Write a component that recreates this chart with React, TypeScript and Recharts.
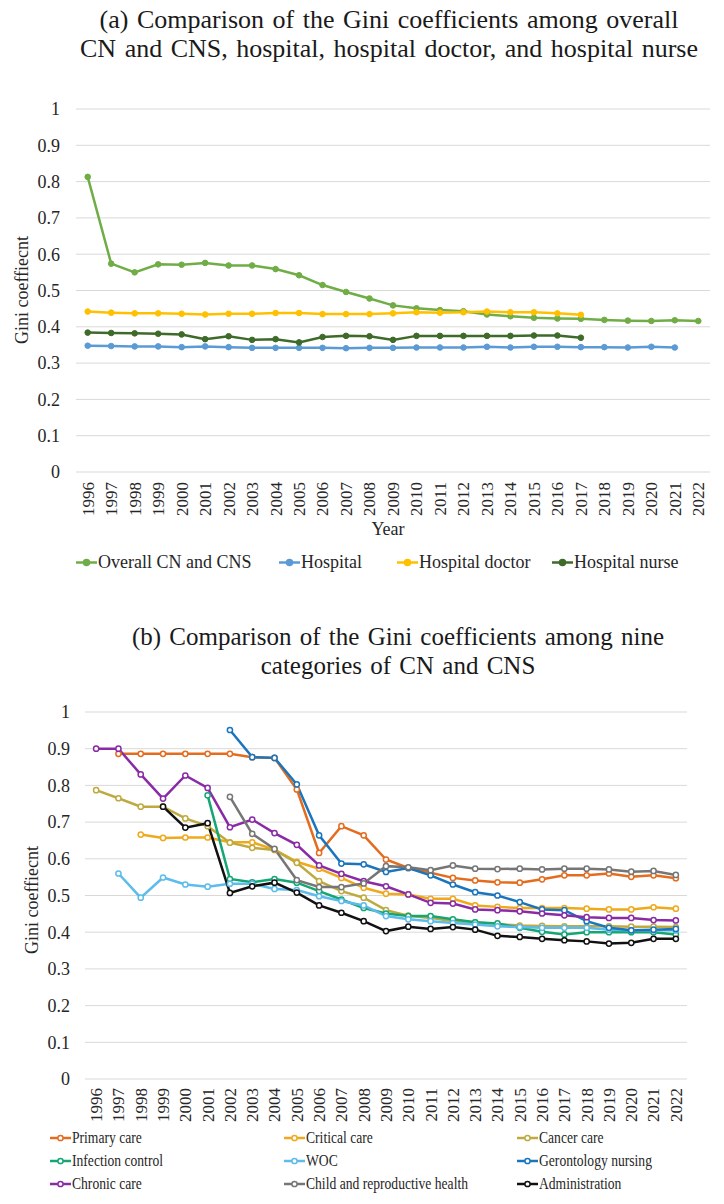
import React from 'react';
import { LineChart, Line, XAxis, YAxis, CartesianGrid } from 'recharts';

// categorias (años)
const years = ['1996', '1997', '1998', '1999', '2000', '2001', '2002', '2003', '2004', '2005', '2006', '2007', '2008', '2009', '2010', '2011', '2012', '2013', '2014', '2015', '2016', '2017', '2018', '2019', '2020', '2021', '2022'];
const yTicks = [0, 0.1, 0.2, 0.3, 0.4, 0.5, 0.6, 0.7, 0.8, 0.9, 1];

// (a) valores
const overall = [0.813, 0.574, 0.55, 0.572, 0.571, 0.576, 0.569, 0.569, 0.559, 0.542, 0.515, 0.496, 0.478, 0.459, 0.451, 0.446, 0.443, 0.434, 0.429, 0.425, 0.423, 0.422, 0.419, 0.417, 0.416, 0.418, 0.416];
const hospital = [0.348, 0.347, 0.346, 0.346, 0.344, 0.346, 0.344, 0.342, 0.342, 0.342, 0.342, 0.341, 0.342, 0.342, 0.343, 0.343, 0.343, 0.345, 0.343, 0.345, 0.345, 0.344, 0.344, 0.343, 0.345, 0.343, null];
const hospitalDoctor = [0.442, 0.439, 0.437, 0.437, 0.436, 0.434, 0.436, 0.436, 0.438, 0.438, 0.435, 0.435, 0.435, 0.437, 0.44, 0.439, 0.44, 0.442, 0.44, 0.44, 0.437, 0.433, null, null, null, null, null];
const hospitalNurse = [0.384, 0.383, 0.382, 0.381, 0.379, 0.366, 0.374, 0.364, 0.366, 0.357, 0.372, 0.375, 0.374, 0.364, 0.375, 0.375, 0.375, 0.375, 0.375, 0.376, 0.376, 0.37, null, null, null, null, null];

// (b) valores
const primaryCare = [null, 0.886, 0.886, 0.886, 0.886, 0.886, 0.886, 0.877, 0.875, 0.789, 0.616, 0.689, 0.664, 0.598, 0.575, 0.562, 0.548, 0.541, 0.536, 0.535, 0.544, 0.555, 0.555, 0.56, 0.551, 0.555, 0.547];
const criticalCare = [null, null, 0.666, 0.657, 0.658, 0.658, 0.645, 0.645, 0.625, 0.592, 0.573, 0.548, 0.521, 0.505, 0.503, 0.491, 0.491, 0.473, 0.469, 0.466, 0.466, 0.466, 0.464, 0.462, 0.462, 0.468, 0.464];
const cancerCare = [0.787, 0.765, 0.742, 0.742, 0.71, 0.689, 0.644, 0.63, 0.624, 0.589, 0.539, 0.512, 0.494, 0.46, 0.445, 0.439, 0.43, 0.427, 0.422, 0.418, 0.417, 0.416, 0.416, 0.416, 0.415, 0.415, 0.414];
const infectionControl = [null, null, null, null, null, 0.773, 0.545, 0.536, 0.545, 0.535, 0.512, 0.489, 0.466, 0.451, 0.444, 0.444, 0.435, 0.427, 0.424, 0.412, 0.401, 0.394, 0.4, 0.4, 0.4, 0.4, 0.394];
const woc = [null, 0.56, 0.494, 0.549, 0.53, 0.524, 0.532, 0.532, 0.518, 0.515, 0.498, 0.485, 0.473, 0.444, 0.435, 0.43, 0.425, 0.421, 0.416, 0.414, 0.412, 0.412, 0.412, 0.407, 0.405, 0.405, 0.405];
const gerontology = [null, null, null, null, null, null, 0.951, 0.877, 0.875, 0.803, 0.664, 0.587, 0.585, 0.564, 0.575, 0.555, 0.53, 0.509, 0.5, 0.482, 0.462, 0.46, 0.43, 0.412, 0.405, 0.407, 0.409];
const chronicCare = [0.9, 0.9, 0.83, 0.764, 0.827, 0.793, 0.686, 0.707, 0.67, 0.638, 0.582, 0.559, 0.539, 0.525, 0.503, 0.48, 0.478, 0.462, 0.46, 0.457, 0.451, 0.446, 0.441, 0.439, 0.439, 0.433, 0.432];
const childHealth = [null, null, null, null, null, null, 0.769, 0.668, 0.627, 0.542, 0.523, 0.523, 0.533, 0.58, 0.577, 0.569, 0.582, 0.573, 0.572, 0.573, 0.571, 0.573, 0.573, 0.571, 0.565, 0.567, 0.556];
const administration = [null, null, null, 0.742, 0.685, 0.697, 0.507, 0.525, 0.535, 0.508, 0.473, 0.453, 0.43, 0.403, 0.415, 0.409, 0.414, 0.407, 0.39, 0.387, 0.382, 0.378, 0.375, 0.369, 0.371, 0.382, 0.382];

const seriesA = [
  { key: 'overall', name: 'Overall CN and CNS', color: '#70AD47', values: overall },
  { key: 'hospital', name: 'Hospital', color: '#5B9BD5', values: hospital },
  { key: 'doctor', name: 'Hospital doctor', color: '#FFC000', values: hospitalDoctor },
  { key: 'nurse', name: 'Hospital nurse', color: '#3F6B2A', values: hospitalNurse },
];

const seriesB = [
  { key: 'primary', name: 'Primary care', color: '#E46C1E', values: primaryCare },
  { key: 'critical', name: 'Critical care', color: '#EFA91C', values: criticalCare },
  { key: 'cancer', name: 'Cancer care', color: '#BFAA40', values: cancerCare },
  { key: 'infection', name: 'Infection control', color: '#14A673', values: infectionControl },
  { key: 'woc', name: 'WOC', color: '#5DBCEB', values: woc },
  { key: 'geronto', name: 'Gerontology nursing', color: '#1A75BC', values: gerontology },
  { key: 'chronic', name: 'Chronic care', color: '#8A2BA6', values: chronicCare },
  { key: 'child', name: 'Child and reproductive health', color: '#767676', values: childHealth },
  { key: 'admin', name: 'Administration', color: '#111111', values: administration },
];

const dataA = years.map((y, i) => {
  const row: any = { year: y };
  seriesA.forEach((s) => (row[s.key] = s.values[i]));
  return row;
});
const dataB = years.map((y, i) => {
  const row: any = { year: y };
  seriesB.forEach((s) => (row[s.key] = s.values[i]));
  return row;
});

const serif = "'Liberation Serif', 'Times New Roman', serif";
const textColor = '#262626';

const YearTick = (props: any) => {
  const { x, y, payload } = props;
  return (
    <text
      x={x}
      y={y}
      transform={`rotate(-90, ${x}, ${y})`}
      textAnchor="end"
      dy="0.35em"
      fontSize={17}
      fontFamily={serif}
      fill={textColor}
    >
      {payload.value}
    </text>
  );
};

const Marker = ({ color, hollow }: { color: string; hollow?: boolean }) => (
  <svg width={21} height={12} style={{ display: 'block' }}>
    <line x1={0} y1={6} x2={21} y2={6} stroke={color} strokeWidth={2.5} />
    <circle cx={10.5} cy={6} r={hollow ? 2.6 : 3} fill={hollow ? '#fff' : color} stroke={color} strokeWidth={1.5} />
  </svg>
);

const Title = ({ top, center, size, lines }: { top: number; center: number; size: number; lines: string[] }) => (
  <div
    style={{
      position: 'absolute',
      top,
      left: center - 362,
      width: 724,
      textAlign: 'center',
      fontFamily: serif,
      fontSize: size,
      lineHeight: '29px',
      color: '#1a1a1a',
      wordSpacing: '2px',
    }}
  >
    {lines.map((l) => (
      <div key={l}>{l}</div>
    ))}
  </div>
);

const YLabel = ({ cx, cy }: { cx: number; cy: number }) => (
  <div
    style={{
      position: 'absolute',
      left: cx,
      top: cy,
      transform: 'translate(-50%, -50%) rotate(-90deg)',
      fontFamily: serif,
      fontSize: 18,
      color: textColor,
      whiteSpace: 'nowrap',
    }}
  >
    Gini coeffiecnt
  </div>
);

export default function App() {
  // posiciones de la leyenda (a) y (b)
  const legendAX = [76, 279, 397, 552];
  const legendBX = [50, 284, 517];
  const legendBY = [1138, 1161, 1184];

  return (
    <div style={{ position: 'absolute', left: 0, top: 0, width: 724, height: 1204, background: '#fff', overflow: 'hidden' }}>
      <Title top={5} center={389} size={26} lines={['(a) Comparison of the Gini coefficients among overall', 'CN and CNS, hospital, hospital doctor, and hospital nurse']} />

      <div style={{ position: 'absolute', left: 0, top: 0 }}>
        <LineChart width={724} height={600} data={dataA} margin={{ top: 109, right: 14, bottom: 88, left: 36 }}>
          <CartesianGrid stroke="#D9D9D9" vertical={false} />
          <XAxis
            dataKey="year"
            height={40}
            axisLine={false}
            tickLine={false}
            tickMargin={4}
            interval={0}
            padding={{ left: 11.7, right: 11.7 }}
            tick={<YearTick />}
          />
          <YAxis
            width={40}
            domain={[0, 1]}
            ticks={yTicks}
            axisLine={false}
            tickLine={false}
            tickSize={6}
            tickMargin={10}
            tick={{ fontSize: 18, fontFamily: serif, fill: textColor }}
          />
          {seriesA.map((s) => (
            <Line
              key={s.key}
              dataKey={s.key}
              name={s.name}
              stroke={s.color}
              strokeWidth={2.5}
              dot={{ r: 2.8, fill: s.color, stroke: s.color, strokeWidth: 1 }}
              activeDot={false}
              isAnimationActive={false}
            />
          ))}
        </LineChart>
      </div>

      <YLabel cx={22} cy={290} />
      <div style={{ position: 'absolute', left: 388, top: 529, transform: 'translate(-50%, -50%)', fontFamily: serif, fontSize: 18, color: textColor }}>
        Year
      </div>

      {seriesA.map((s, i) => (
        <div
          key={s.key}
          style={{ position: 'absolute', left: legendAX[i], top: 562, transform: 'translateY(-50%)', display: 'flex', alignItems: 'center' }}
        >
          <Marker color={s.color} />
          <span style={{ fontFamily: serif, fontSize: 18, color: textColor, whiteSpace: 'nowrap', marginLeft: 1 }}>
            {s.name}
          </span>
        </div>
      ))}

      <Title top={622} center={398} size={25} lines={['(b) Comparison of the Gini coefficients among nine', 'categories of CN and CNS']} />

      <div style={{ position: 'absolute', left: 0, top: 600 }}>
        <LineChart width={724} height={600} data={dataB} margin={{ top: 112, right: 37, bottom: 81, left: 45 }}>
          <CartesianGrid stroke="#D9D9D9" vertical={false} />
          <XAxis
            dataKey="year"
            height={40}
            axisLine={false}
            tickLine={false}
            tickMargin={3}
            interval={0}
            padding={{ left: 11.15, right: 11.15 }}
            tick={<YearTick />}
          />
          <YAxis
            width={40}
            domain={[0, 1]}
            ticks={yTicks}
            axisLine={false}
            tickLine={false}
            tickSize={6}
            tickMargin={9}
            tick={{ fontSize: 18, fontFamily: serif, fill: textColor }}
          />
          {seriesB.map((s) => (
            <Line
              key={s.key}
              dataKey={s.key}
              name={s.name}
              stroke={s.color}
              strokeWidth={2.5}
              dot={{ r: 2.6, fill: '#fff', stroke: s.color, strokeWidth: 1.5 }}
              activeDot={false}
              isAnimationActive={false}
            />
          ))}
        </LineChart>
      </div>

      <YLabel cx={32} cy={900} />

      {seriesB.map((s, i) => (
        <div
          key={s.key}
          style={{
            position: 'absolute',
            left: legendBX[i % 3],
            top: legendBY[Math.floor(i / 3)],
            transform: 'translateY(-50%)',
            display: 'flex',
            alignItems: 'center',
          }}
        >
          <Marker color={s.color} hollow />
          <span style={{ fontFamily: serif, fontSize: 16, color: textColor, whiteSpace: 'nowrap', display: 'inline-block', transform: 'scaleX(0.85)', transformOrigin: 'left center', marginLeft: 1 }}>
            {s.name}
          </span>
        </div>
      ))}
    </div>
  );
}
